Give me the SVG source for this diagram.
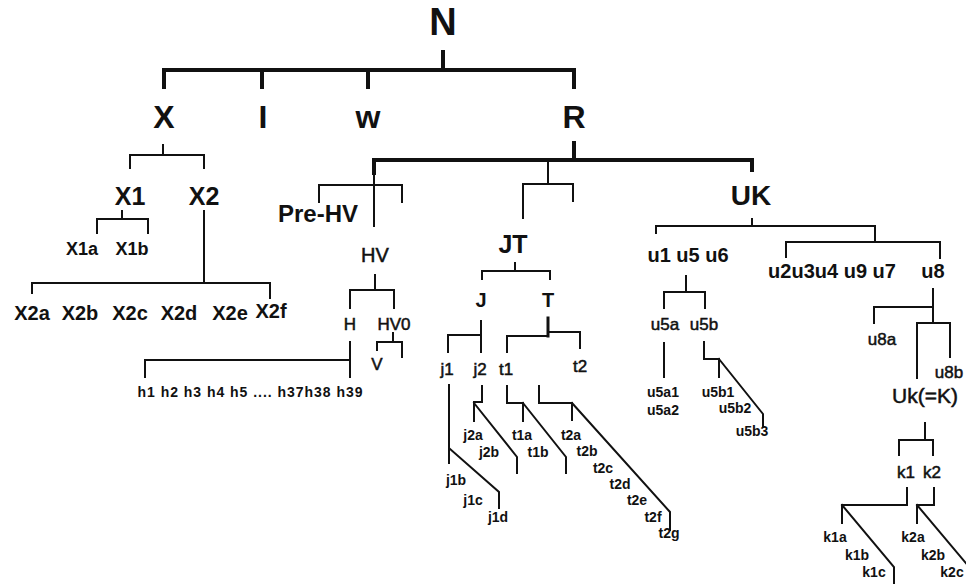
<svg xmlns="http://www.w3.org/2000/svg" width="966" height="584" viewBox="0 0 966 584">
<style>
text{font-family:"Liberation Sans",Arial,sans-serif;font-weight:bold;text-anchor:middle;fill:#111}
.r{font-weight:normal;stroke:#111;stroke-width:0.5}
.c{fill:none;stroke:#111;stroke-width:2;stroke-linecap:square}
.k{stroke-width:4}
.s14{font-size:14px}
.s17{font-size:17px}
.s19{font-size:20px}
</style>
<rect width="966" height="584" fill="#fff"/>
<g id="connectors">
<path class="c k" d="M443 52V70M164 87V70H574V87M262 70V87M368 70V87M574 143V160M374 173V160H752V170"/>
<path class="c" d="M374 173V226M319 202V185H402V202M548 160V184M523 218V184H573V201"/>
<path class="c" d="M163 145V155M130 168V155H204V168M122 211V219M97 233V219H148V233M204 211V283M32 293V283H270V298"/>
<path class="c" d="M375 275V290M350 308V290H394V308M350 342V377M145 377V360H350M393 333V342M377 350V342H402V357"/>
<path class="c" d="M515 263V271M482 279V271H550V279M481 321V352M448 352V335H481M507 352V336H548M548 332H580V348"/>
<path class="c" d="M548 318V336" style="stroke-width:3"/>
<path class="c" d="M449 385V463M450 449L499 492V508M482 386V402H474V421M474 403L517 457V473M507 386V403H523V421M523 403L566 457V473M539 386V403H572V420M572 403L670 512V530"/>
<path class="c" d="M752 219V226M656 233V226H875V242M786 257V242H940V258M686 276V292M664 308V292H705V308M664 343V377M704 342V359H719V377M719 359L763 414V427"/>
<path class="c" d="M933 289V323M874 323V307H933M917 378V323H950V357M925 423V440M899 455V440H933V455M907 488V505H842V523M842 505L894 567V590M934 488V505H917V523M917 505L975 574"/>
</g>
<g id="N"><text x="443" y="35" style="font-size:38px">N</text></g>
<g id="X"><text x="164" y="128" style="font-size:32px">X</text></g>
<g id="I"><text x="263" y="128" style="font-size:32px">I</text></g>
<g id="w"><text x="368" y="128" style="font-size:32px">w</text></g>
<g id="R"><text x="574" y="128" style="font-size:32px">R</text></g>
<g id="X1"><text x="130" y="205" style="font-size:25px">X1</text></g>
<g id="X2"><text x="204" y="205" style="font-size:25px">X2</text></g>
<g id="X1a"><text x="82" y="255" style="font-size:18px">X1a</text></g>
<g id="X1b"><text x="132" y="255" style="font-size:18px">X1b</text></g>
<g id="X2a"><text x="32" y="320" style="font-size:20px">X2a</text></g>
<g id="X2b"><text x="80" y="320" style="font-size:20px">X2b</text></g>
<g id="X2c"><text x="130" y="320" style="font-size:20px">X2c</text></g>
<g id="X2d"><text x="179" y="320" style="font-size:20px">X2d</text></g>
<g id="X2e"><text x="230" y="320" style="font-size:20px">X2e</text></g>
<g id="X2f"><text x="271" y="318" style="font-size:20px">X2f</text></g>
<g id="PreHV"><text x="318" y="222" style="font-size:24px">Pre-HV</text></g>
<g id="HV"><text x="375" y="262" style="font-size:20px" class="r">HV</text></g>
<g id="H"><text x="350" y="330" class="r s17">H</text></g>
<g id="HV0"><text x="394" y="330" class="r s17">HV0</text></g>
<g id="V"><text x="377" y="370" class="r s17">V</text></g>
<g id="h"><text x="250" y="397" class="s14" textLength="225" lengthAdjust="spacing" style="white-space:pre">h1 h2 h3 h4 h5 .... h37h38 h39</text></g>
<g id="JT"><text x="513" y="253" style="font-size:25px">JT</text></g>
<g id="J"><text x="481" y="307" class="s19">J</text></g>
<g id="T"><text x="548" y="307" class="s19">T</text></g>
<g id="j1"><text x="447" y="375" class="r s17">j1</text></g>
<g id="j2"><text x="480" y="375" class="r s17">j2</text></g>
<g id="t1"><text x="506" y="375" class="r s17">t1</text></g>
<g id="t2"><text x="580" y="372" class="r s17">t2</text></g>
<g id="j1b"><text x="456" y="485" class="s14">j1b</text></g>
<g id="j1c"><text x="473" y="505" class="s14">j1c</text></g>
<g id="j1d"><text x="498" y="522" class="s14">j1d</text></g>
<g id="j2a"><text x="473" y="440" class="s14">j2a</text></g>
<g id="j2b"><text x="489" y="457" class="s14">j2b</text></g>
<g id="t1a"><text x="522" y="440" class="s14">t1a</text></g>
<g id="t1b"><text x="538" y="457" class="s14">t1b</text></g>
<g id="t2a"><text x="571" y="440" class="s14">t2a</text></g>
<g id="t2b"><text x="587" y="456" class="s14">t2b</text></g>
<g id="t2c"><text x="603" y="473" class="s14">t2c</text></g>
<g id="t2d"><text x="620" y="489" class="s14">t2d</text></g>
<g id="t2e"><text x="637" y="505" class="s14">t2e</text></g>
<g id="t2f"><text x="653" y="522" class="s14">t2f</text></g>
<g id="t2g"><text x="669" y="538" class="s14">t2g</text></g>
<g id="UK"><text x="751" y="205" style="font-size:28px">UK</text></g>
<g id="u1u5u6"><text x="688" y="262" class="s19">u1 u5 u6</text></g>
<g id="u2u3u4u9u7"><text x="832" y="278" class="s19">u2u3u4 u9 u7</text></g>
<g id="u8"><text x="933" y="278" class="s19">u8</text></g>
<g id="u5a"><text x="665" y="330" class="r s17">u5a</text></g>
<g id="u5b"><text x="704" y="330" class="r s17">u5b</text></g>
<g id="u5a1"><text x="663" y="397" class="s14">u5a1</text></g>
<g id="u5a2"><text x="663" y="415" class="s14">u5a2</text></g>
<g id="u5b1"><text x="718" y="397" class="s14">u5b1</text></g>
<g id="u5b2"><text x="735" y="413" class="s14">u5b2</text></g>
<g id="u5b3"><text x="752" y="436" class="s14">u5b3</text></g>
<g id="u8a"><text x="882" y="345" class="r s17">u8a</text></g>
<g id="u8b"><text x="949" y="378" class="r s17">u8b</text></g>
<g id="UkK"><text x="925" y="403" style="font-size:21px" class="r">Uk(=K)</text></g>
<g id="k1"><text x="906" y="478" class="r s17">k1</text></g>
<g id="k2"><text x="932" y="478" class="r s17">k2</text></g>
<g id="k1a"><text x="835" y="542" class="s14">k1a</text></g>
<g id="k1b"><text x="857" y="560" class="s14">k1b</text></g>
<g id="k1c"><text x="874" y="577" class="s14">k1c</text></g>
<g id="k2a"><text x="913" y="542" class="s14">k2a</text></g>
<g id="k2b"><text x="933" y="560" class="s14">k2b</text></g>
<g id="k2c"><text x="952" y="577" class="s14">k2c</text></g>
</svg>
